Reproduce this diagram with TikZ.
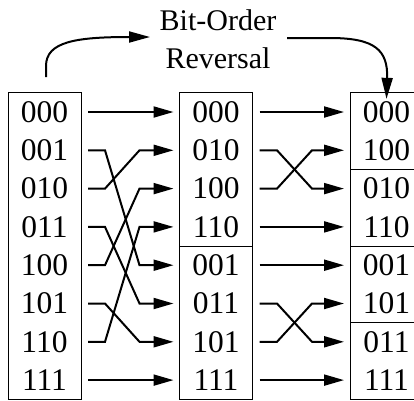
\documentclass[tikz,border=0pt]{standalone}
\usepackage{fontspec}
\setmainfont{Liberation Serif}
\usetikzlibrary{arrows.meta}
\begin{document}
\begin{tikzpicture}[x=1pt,y=-1pt,
  cell/.style={minimum width=73pt, minimum height=38.3pt, inner sep=0pt, outer sep=0pt, font=\fontsize{31.5}{36}\selectfont},
  conn/.style={line width=2pt, shorten <=7pt, shorten >=6pt, -{Triangle[length=20pt,width=11pt]}},
  curv/.style={line width=2pt, -{Triangle[length=21pt,width=11pt]}},
  box/.style={line width=1pt}]
\useasboundingbox (0,0) rectangle (414,400);
\foreach \t [count=\i from 0] in {000,001,010,011,100,101,110,111}
  \node[cell] (L\i) at ({44.5},{112+38.3*\i}) {\t};
\foreach \t [count=\i from 0] in {000,010,100,110,001,011,101,111}
  \node[cell] (M\i) at ({216},{112+38.3*\i}) {\t};
\foreach \t [count=\i from 0] in {000,100,010,110,001,101,011,111}
  \node[cell] (R\i) at ({386.5},{112+38.3*\i}) {\t};
% boxes
\draw[box] (L0.north west) rectangle (L7.south east);
\draw[box] (M0.north west) rectangle (M7.south east);
\draw[box] (R0.north west) rectangle (R7.south east);
\draw[box] (M3.south west) -- (M3.south east);
\draw[box] (R1.south west) -- (R1.south east);
\draw[box] (R3.south west) -- (R3.south east);
\draw[box] (R5.south west) -- (R5.south east);
% first stage
\draw[conn] (L0.east) -- (M0.west);
\draw[conn] (L7.east) -- (M7.west);
\foreach \a/\b in {1/4,2/1,3/5,4/2,5/6,6/3}
  \draw[conn] (L\a.east) -- ++(24,0) -- ([xshift=-40pt]M\b.west) -- (M\b.west);
% second stage
\foreach \a in {0,3,4,7}
  \draw[conn] (M\a.east) -- (R\a.west);
\foreach \a/\b in {1/2,2/1,5/6,6/5}
  \draw[conn] (M\a.east) -- ++(24.5,0) -- ([xshift=-38pt]R\b.west) -- (R\b.west);
% title
\node[align=center, font=\fontsize{30}{38}\selectfont, inner sep=0pt, anchor=base] (T) at (218,68) {Bit-Order\\Reversal};
\coordinate (s1) at (46,77);
\coordinate (e1) at (150,37);
\coordinate (s2) at (287,38);
\draw[curv] (s1) -- (46,66) .. controls (46,42) and (75,37) .. (e1);
\draw[curv] (s2) -- (330,38) .. controls (375,38) and (388,50) .. ([yshift=-6pt]R0.north);
\end{tikzpicture}
\end{document}
